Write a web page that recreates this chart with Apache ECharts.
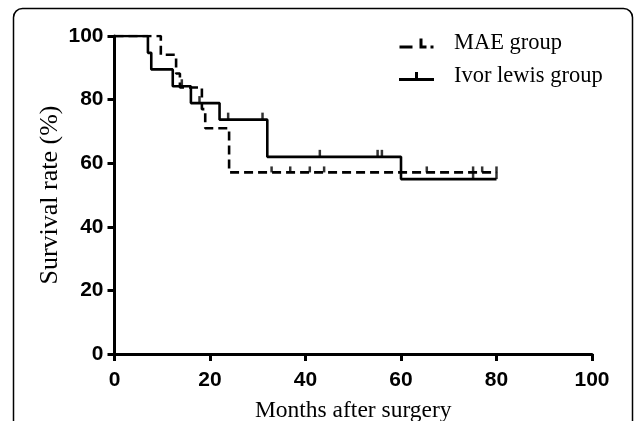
<!DOCTYPE html>
<html>
<head>
<meta charset="utf-8">
<script src="https://cdn.jsdelivr.net/npm/echarts@6/dist/echarts.min.js"></script>
<style>
html,body{margin:0;padding:0;background:#fff;}
#chart{width:634px;height:421px;}
</style>
</head>
<body>
<div id="chart"></div>
<script>
// Kaplan-Meier step data
const ivorTimes = [0, 7.0, 7.7, 12.2, 16.0, 22.0, 32.0, 60.0, 80.0];
const ivorSurv  = [100, 94.7, 89.5, 84.2, 78.9, 73.7, 62.0, 55.0, 55.0];
const ivorCensorTimes = [14.1, 17.8, 23.8, 31.0, 43.0, 55.1, 56.0, 75.1, 80.0];
const ivorCensorSurv  = [84.2, 78.9, 73.7, 73.7, 62.0, 62.0, 62.0, 55.0, 55.0];

const maeTimes = [0, 9.7, 12.9, 13.7, 18.3, 19.0, 24.0, 80.0];
const maeSurv  = [100, 94.1, 88.2, 83.8, 77.0, 71.0, 57.1, 57.1];
const maeCensorTimes = [32.9, 36.8, 40.9, 43.9, 65.4, 75.1, 77.0, 80.0];
const maeCensorSurv  = [57.1, 57.1, 57.1, 57.1, 57.1, 57.1, 57.1, 57.1];

const xTicks = [0, 20, 40, 60, 80, 100];
const yTicks = [0, 20, 40, 60, 80, 100];

const zip = (a, b) => a.map((v, i) => [v, b[i]]);

const chart = echarts.init(document.getElementById('chart'), null, {renderer: 'canvas'});
const tickFont = {fontFamily: 'Liberation Sans', fontWeight: 'bold', fontSize: 21, color: '#000'};
const serif = 'Liberation Serif';

chart.setOption({
  animation: false,
  backgroundColor: '#fff',
  graphic: [{
    type: 'rect',
    shape: {x: 13.5, y: 8.5, width: 619, height: 460, r: 9},
    style: {fill: 'none', stroke: '#000', lineWidth: 1.5},
    silent: true, z: -1
  }],
  grid: {left: 114.5, right: 42, top: 36, bottom: 67, containLabel: false, outerBoundsMode: 'none'},
  legend: {
    orient: 'vertical',
    left: 394, top: 27,
    itemWidth: 35, itemHeight: 10, itemGap: 10,
    textStyle: {fontFamily: serif, fontSize: 22.5, color: '#000', lineHeight: 22, padding: [0, 0, 0, 15]},
    data: [
      {name: 'MAE group', icon: 'path://M0,7h13v3h-13z M20,0h3v10h-3z M20,7h7v3h-7z M31,7h3v3h-3z'},
      {name: 'Ivor lewis group', icon: 'path://M0,6h35v3h-35z M16,0h3v6h-3z'}
    ]
  },
  xAxis: {
    type: 'value', min: 0, max: 100, interval: 20,
    name: 'Months after surgery', nameLocation: 'middle', nameGap: 45, nameMoveOverlap: false,
    nameTextStyle: {fontFamily: serif, fontSize: 23.5, color: '#000'},
    axisLine: {show: true, lineStyle: {color: '#000', width: 3}},
    axisTick: {show: true, length: 7, lineStyle: {color: '#000', width: 3}},
    axisLabel: Object.assign({margin: 16, formatter: v => xTicks.includes(v) ? String(v) : ''}, tickFont),
    splitLine: {show: false}
  },
  yAxis: {
    type: 'value', min: 0, max: 100, interval: 20,
    name: 'Survival rate (%)', nameLocation: 'middle', nameGap: 51, nameMoveOverlap: false,
    nameTextStyle: {fontFamily: serif, fontSize: 26, color: '#000'},
    axisLine: {show: true, lineStyle: {color: '#000', width: 3}},
    axisTick: {show: true, length: 7, lineStyle: {color: '#000', width: 3}},
    axisLabel: Object.assign({margin: 11, formatter: v => yTicks.includes(v) ? String(v) : ''}, tickFont),
    splitLine: {show: false}
  },
  series: [
    {
      name: 'MAE group', type: 'line', step: 'end', symbol: 'none',
      data: zip(maeTimes, maeSurv),
      lineStyle: {color: '#000', width: 2.6, type: [9, 5]},
      itemStyle: {color: '#000'}, z: 3
    },
    {
      name: 'Ivor lewis group', type: 'line', step: 'end', symbol: 'none',
      data: zip(ivorTimes, ivorSurv),
      lineStyle: {color: '#000', width: 2.6, type: 'solid'},
      itemStyle: {color: '#000'}, z: 4
    },
    {
      name: 'MAE censored', type: 'scatter', symbol: 'rect', symbolSize: [2.5, 6],
      symbolOffset: [0, -3],
      data: zip(maeCensorTimes, maeCensorSurv),
      itemStyle: {color: '#000'}, z: 5
    },
    {
      name: 'Ivor censored', type: 'scatter', symbol: 'rect', symbolSize: [2.5, 7],
      symbolOffset: [0, -3.5],
      data: zip(ivorCensorTimes, ivorCensorSurv),
      itemStyle: {color: '#000'}, z: 5
    }
  ]
});
</script>
</body>
</html>
